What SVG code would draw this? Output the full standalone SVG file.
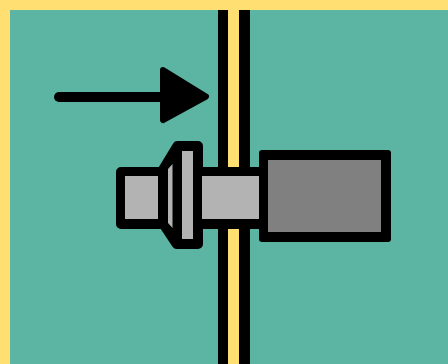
<svg xmlns="http://www.w3.org/2000/svg" width="448" height="364" viewBox="0 0 448 364">
<style>
.k{stroke:#000;stroke-width:10;stroke-linejoin:round;stroke-linecap:round}
.l{fill:#b3b3b3}
</style>
<rect width="448" height="364" fill="#ffdf71"/>
<rect x="10" y="10" width="438" height="354" fill="#5bb5a2"/>
<g id="wall">
<rect x="228" y="10" width="11" height="354" fill="#ffdf71"/>
<rect x="218" y="10" width="10" height="354" fill="#000"/>
<rect x="239" y="10" width="11" height="354" fill="#000"/>
</g>
<g id="arrow">
<path d="M59 97H170" class="k" fill="none"/>
<path d="M163 70L206 96.5L163 120Z" fill="#000" stroke="#000" stroke-width="6" stroke-linejoin="round"/>
</g>
<g id="bolt">
<path d="M121 172H161.6L177.4 146H198V244H176.7L163.4 224H121Z" class="k" fill="#000"/>
<rect x="125" y="176" width="33" height="43" class="l"/>
<path d="M168 169L172.5 164V228L168 223Z" class="l"/>
<rect x="182" y="151" width="11" height="88" class="l"/>
<rect x="198" y="167" width="66" height="62" fill="#000"/>
<rect x="202" y="176" width="62" height="43" class="l"/>
</g>
<g id="body">
<rect x="259" y="150" width="132" height="92" rx="3" fill="#000"/>
<rect x="268" y="160" width="113" height="72" fill="#808080"/>
</g>
</svg>
